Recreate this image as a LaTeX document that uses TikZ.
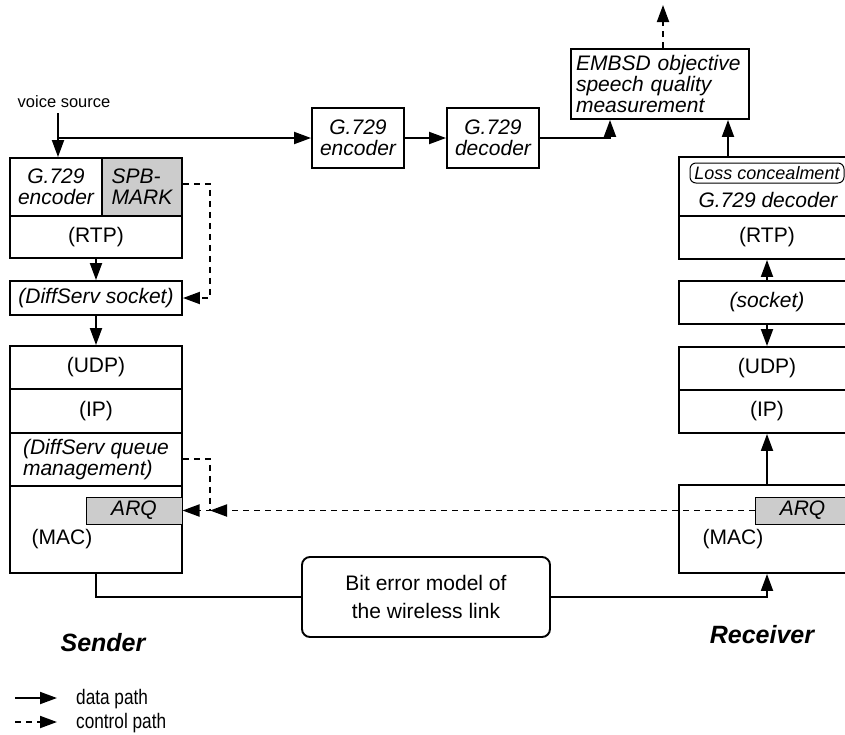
\documentclass[tikz,border=0pt]{standalone}
\usepackage{fontspec}
\setmainfont{Liberation Sans}
\usetikzlibrary{arrows.meta}
\begin{document}
\begin{tikzpicture}[x=1pt,y=-1pt,
 every node/.style={inner sep=0pt, font=\fontsize{21}{21}\selectfont},
 cell/.style={draw, line width=1.9pt, rectangle, align=center},
 it/.style={font=\fontsize{21}{21}\selectfont\itshape},
 shade/.style={fill=gray!40},
 arr/.style={line width=1.9pt, -{Triangle[length=17pt,width=12pt]}},
 ctl/.style={arr, dash pattern=on 6pt off 5pt},
 ln/.style={line width=1.9pt},
 lbl/.style={font=\fontsize{25}{25}\selectfont\bfseries\itshape},
]
\path[use as bounding box, clip] (0,0) rectangle (845,734);
\fill[white] (0,0) rectangle (845,734);

% ---------- Sender stack ----------
\node[cell, it, minimum width=92pt, minimum height=58pt] (senc) at (56,187) {G.729\\encoder};
\node[cell, it, shade, minimum width=80pt, minimum height=58pt, align=left] (spb) at (142,187) {SPB-\\MARK};
\node[cell, minimum width=172pt, minimum height=42pt] (srtp) at (96,237) {(RTP)};
\node[cell, it, minimum width=172pt, minimum height=34pt] (ssock) at (96,298) {(DiffServ socket)};
\node[cell, minimum width=172pt, minimum height=43pt] (sudp) at (96,367.5) {(UDP)};
\node[cell, minimum width=172pt, minimum height=44pt] (sip) at (96,411) {(IP)};
\node[cell, it, minimum width=172pt, minimum height=53pt, align=left] (sdq) at (96,459.5) {(DiffServ queue\\management)};
\node[cell, minimum width=172pt, minimum height=87pt] (smac) at (96,529.5) {};
\node[cell, it, shade, line width=1pt, minimum width=96pt, minimum height=27pt] (sarq) at (134,510.5) {ARQ};
\node (smact) at (62,539) {(MAC)};

% ---------- Receiver stack ----------
\node[cell, minimum width=176pt, minimum height=59pt] (rdec) at (767,186.5) {};
\node[draw, line width=1pt, rounded corners=6pt, minimum width=154pt, minimum height=20pt, font=\fontsize{18}{18}\selectfont\itshape] (loss) at (767,173) {Loss concealment};
\node[it] (rdect) at (768,200) {G.729 decoder};
\node[cell, minimum width=176pt, minimum height=43pt] (rrtp) at (767,237.5) {(RTP)};
\node[cell, it, minimum width=176pt, minimum height=43pt] (rsock) at (767,302.5) {(socket)};
\node[cell, minimum width=176pt, minimum height=43pt] (rudp) at (767,368.5) {(UDP)};
\node[cell, minimum width=176pt, minimum height=43pt] (rip) at (767,411.5) {(IP)};
\node[cell, minimum width=176pt, minimum height=88pt] (rmac) at (767,529) {};
\node[cell, it, shade, line width=1pt, minimum width=95pt, minimum height=27pt] (rarq) at (802.5,510.5) {ARQ};
\node (rmact) at (733,539) {(MAC)};

% ---------- middle boxes ----------
\node[cell, it, minimum width=92pt, minimum height=60pt] (enc) at (358,138) {G.729\\encoder};
\node[cell, it, minimum width=92pt, minimum height=60pt] (dec) at (493,138) {G.729\\decoder};
\node[cell, it, minimum height=70pt, text width=168pt, inner xsep=5pt, align=left] (embsd) at (660,84) {EMBSD objective\\speech quality\\measurement};
\node[draw, line width=1.9pt, rounded corners=8pt, minimum width=248pt, minimum height=80pt, align=center, font=\fontsize{21}{28}\selectfont] (bit) at (426,597) {Bit error model of\\the wireless link};

% ---------- labels ----------
\node[font=\fontsize{16.5}{17}\selectfont] (vstext) at (64,102) {voice source};
\node[lbl] (sender) at (103,643) {Sender};
\node[lbl] (receiver) at (762,635) {Receiver};

% ---------- data connectors ----------
\coordinate (vs) at (58,113);
\coordinate (vj) at (58,138);
\draw[arr] (vs) -- (vs |- senc.north);
\draw[arr] (vj) -- (enc.west);
\draw[arr] (enc.east) -- (dec.west);
\coordinate (dj) at (610,138);
\draw[arr] (dec.east) -- (dj) -- (dj |- embsd.south);
\coordinate (rj) at (728,150);
\draw[arr] (rj |- rdec.north) -- (rj |- embsd.south);
\coordinate (top) at (663,5);
\draw[ctl] (top |- embsd.north) -- (top);
\draw[arr] (srtp.south) -- (ssock.north);
\draw[arr] (ssock.south) -- (sudp.north);
\draw[arr] (rsock.north) -- (rrtp.south);
\draw[arr] (rsock.south) -- (rudp.north);
\draw[arr] (rmac.north) -- (rip.south);
\coordinate (sj) at (96,597);
\draw[ln] (smac.south) -- (sj) -- (bit.west);
\coordinate (rb) at (767,597);
\draw[arr] (bit.east) -- (rb) -- (rmac.south);

% ---------- control connectors ----------
\coordinate (c1) at (210,184);
\draw[ctl] (spb.east |- c1) -- (c1) -- (c1 |- ssock.east) -- (ssock.east);
\coordinate (c2) at (210,459);
\draw[ctl] (sdq.east |- c2) -- (c2) -- (c2 |- sarq.east) -- (sarq.east);
\coordinate (c3) at (210,510.5);
\draw[ctl] (rarq.west) -- (c3);

% ---------- legend ----------
\coordinate (l1a) at (15,698);
\coordinate (l1b) at (57,698);
\coordinate (l2a) at (15,722);
\coordinate (l2b) at (57,722);
\draw[arr] (l1a) -- (l1b);
\draw[ctl] (l2a) -- (l2b);
\node[anchor=base west] (leg1) at (76,704) {\scalebox{0.82}[1]{data path}};
\node[anchor=base west] (leg2) at (76,728) {\scalebox{0.82}[1]{control path}};
\end{tikzpicture}
\end{document}
